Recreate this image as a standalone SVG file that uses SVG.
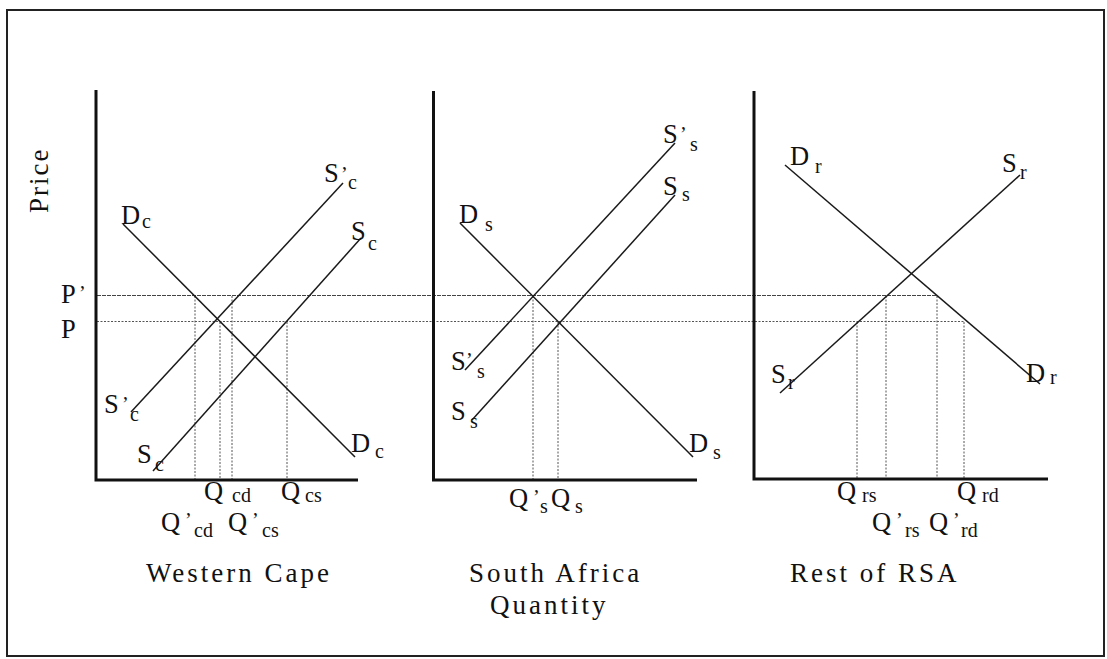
<svg xmlns="http://www.w3.org/2000/svg" width="1107" height="659" viewBox="0 0 1107 659">
<style>
.frame{fill:#fff;stroke:#222;stroke-width:2}
.axis{stroke:#111;stroke-width:3;fill:none}
.curve{stroke:#1a1a1a;stroke-width:1.5;fill:none}
.guide{stroke:#555;stroke-width:1;stroke-dasharray:2 1.5;fill:none}
.guide2{stroke:#444;stroke-width:1.2;stroke-dasharray:4 1;fill:none}
text{font-family:"Liberation Serif","Times New Roman",serif;fill:#111}
.L{font-size:26.5px}
.sub{font-size:20px}
.title{font-size:27px;letter-spacing:3px}
</style>
<rect class="frame" x="7" y="10" width="1097" height="646"/>

<g id="guides">
<line class="guide2" x1="97" y1="295.5" x2="937" y2="295.5"/>
<line class="guide" x1="97" y1="321.5" x2="964" y2="321.5"/>
<line class="guide" x1="195" y1="296" x2="195" y2="479"/>
<line class="guide" x1="220" y1="322" x2="220" y2="479"/>
<line class="guide" x1="232" y1="296" x2="232" y2="479"/>
<line class="guide" x1="287" y1="322" x2="287" y2="479"/>
<line class="guide" x1="533" y1="296" x2="533" y2="479"/>
<line class="guide" x1="558" y1="322" x2="558" y2="479"/>
<line class="guide" x1="857" y1="322" x2="857" y2="479"/>
<line class="guide" x1="886" y1="296" x2="886" y2="479"/>
<line class="guide" x1="937" y1="296" x2="937" y2="479"/>
<line class="guide" x1="964" y1="322" x2="964" y2="479"/>
</g>

<g id="western-cape">
<path class="axis" d="M96 90 V480 H358"/>
<line class="curve" x1="123" y1="224" x2="355" y2="457"/>
<line class="curve" x1="131" y1="412" x2="343" y2="183"/>
<line class="curve" x1="153" y1="471" x2="361" y2="238"/>
<text class="L" x="121" y="224">D</text><text class="sub" x="142" y="228">c</text>
<text class="L" x="324" y="182">S</text><text class="sub" x="341" y="181">’</text><text class="sub" x="348" y="189">c</text>
<text class="L" x="351" y="240">S</text><text class="sub" x="368" y="250">c</text>
<text class="L" x="104" y="413">S</text><text class="sub" x="122" y="411">’</text><text class="sub" x="130" y="421">c</text>
<text class="L" x="137" y="463">S</text><text class="sub" x="155" y="471">c</text>
<text class="L" x="351" y="452">D</text><text class="sub" x="375" y="458">c</text>
<text class="L" x="204" y="500">Q</text><text class="sub" x="232" y="502">cd</text>
<text class="L" x="281" y="500">Q</text><text class="sub" x="305" y="502">cs</text>
<text class="L" x="161" y="531">Q</text><text class="sub" x="185" y="527">’</text><text class="sub" x="194" y="537">cd</text>
<text class="L" x="228" y="531">Q</text><text class="sub" x="252" y="527">’</text><text class="sub" x="262" y="537">cs</text>
<text class="title" x="146" y="582">Western Cape</text>
</g>

<g id="south-africa">
<path class="axis" d="M433.5 91 V480 H697"/>
<line class="curve" x1="460" y1="223" x2="693" y2="457"/>
<line class="curve" x1="465" y1="370" x2="675" y2="143"/>
<line class="curve" x1="472" y1="420" x2="675" y2="195"/>
<text class="L" x="459" y="223">D</text><text class="sub" x="485" y="231">s</text>
<text class="L" x="663" y="143">S</text><text class="sub" x="680" y="141">’</text><text class="sub" x="690" y="151">s</text>
<text class="L" x="663" y="195">S</text><text class="sub" x="682" y="201">s</text>
<text class="L" x="451" y="370">S</text><text class="sub" x="466" y="367">’</text><text class="sub" x="477" y="378">s</text>
<text class="L" x="451" y="420">S</text><text class="sub" x="470" y="428">s</text>
<text class="L" x="689" y="452">D</text><text class="sub" x="713" y="459">s</text>
<text class="L" x="509" y="507">Q</text><text class="sub" x="533" y="504">’</text><text class="sub" x="540" y="513">s</text>
<text class="L" x="551" y="507">Q</text><text class="sub" x="575" y="513">s</text>
<text class="title" x="469" y="582">South Africa</text>
<text class="title" x="490" y="614">Quantity</text>
</g>

<g id="rest-of-rsa">
<path class="axis" d="M754 91 V479 H1048"/>
<line class="curve" x1="785" y1="165" x2="1040" y2="384"/>
<line class="curve" x1="780" y1="393" x2="1020" y2="175"/>
<text class="L" x="790" y="165">D</text><text class="sub" x="815" y="173">r</text>
<text class="L" x="1002" y="172">S</text><text class="sub" x="1020" y="179">r</text>
<text class="L" x="771" y="383">S</text><text class="sub" x="788" y="389">r</text>
<text class="L" x="1026" y="382">D</text><text class="sub" x="1050" y="384">r</text>
<text class="L" x="837" y="500">Q</text><text class="sub" x="862" y="502">rs</text>
<text class="L" x="957" y="500">Q</text><text class="sub" x="982" y="502">rd</text>
<text class="L" x="872" y="531">Q</text><text class="sub" x="896" y="527">’</text><text class="sub" x="905" y="537">rs</text>
<text class="L" x="929" y="531">Q</text><text class="sub" x="953" y="527">’</text><text class="sub" x="961" y="537">rd</text>
<text class="title" x="790" y="582">Rest of RSA</text>
</g>

<g id="price-axis-labels">
<text class="title" transform="translate(48 213) rotate(-90)" style="letter-spacing:2px">Price</text>
<text class="L" x="61" y="303">P</text><text class="sub" x="79" y="300">’</text>
<text class="L" x="61" y="338">P</text>
</g>
</svg>
